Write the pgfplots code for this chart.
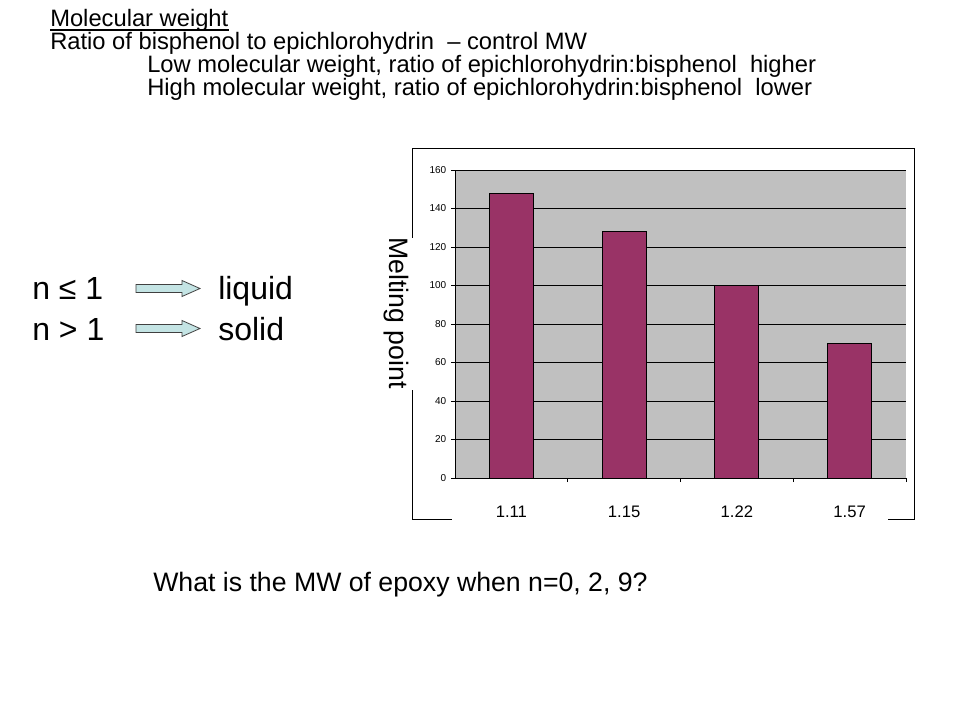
\documentclass[border=0pt]{standalone}
\usepackage{pgfplots}
\pgfplotsset{compat=1.18}
\usepackage{fontspec}
\setmainfont{Liberation Sans}[Ligatures={NoCommon,NoRequired,NoContextual}]
\definecolor{barplum}{HTML}{993366}
\definecolor{plotgray}{HTML}{C0C0C0}
\definecolor{arrowfill}{HTML}{C4E4E4}
\begin{document}
\begin{tikzpicture}[x=0.75pt,y=-0.75pt]
\useasboundingbox (0,0) rectangle (960,720);
\fill[white] (0,0) rectangle (960,720);
% top text
\node[anchor=base west,inner sep=0pt,font=\fontsize{17.8}{21}\selectfont] (mw) at (50,27) {Molecular weight};
\draw[line width=0.9pt] ([yshift=-2.2pt]mw.base west) -- ([yshift=-2.2pt]mw.base east);
\node[anchor=base west,inner sep=0pt,font=\fontsize{17.8}{21}\selectfont] at (50,50) {Ratio of bisphenol\ to epichlorohydrin\ \ -- control MW};
\node[anchor=base west,inner sep=0pt,font=\fontsize{17.8}{21}\selectfont] at (147,73) {Low molecular weight, ratio of epichlorohydrin:bisphenol\ \ higher};
\node[anchor=base west,inner sep=0pt,font=\fontsize{17.8}{21}\selectfont] at (147,96) {High molecular weight, ratio of epichlorohydrin:bisphenol\ \ lower};
% n rules
\node[anchor=base west,inner sep=0pt,font=\fontsize{24}{28}\selectfont] at (32,300) {n ≤ 1};
\node[anchor=base west,inner sep=0pt,font=\fontsize{24}{28}\selectfont] at (32,340) {n > 1};
\node[anchor=base west,inner sep=0pt,font=\fontsize{24}{28}\selectfont] at (218,300) {liquid};
\node[anchor=base west,inner sep=0pt,font=\fontsize{24}{28}\selectfont] at (218,340) {solid};
\foreach \yy in {288.5,328.5}{
  \filldraw[fill=arrowfill,draw=black!75,line width=0.6pt]
    (136,\yy-4) -- (182,\yy-4) -- (182,\yy-8) -- (200,\yy) -- (182,\yy+8) -- (182,\yy+4) -- (136,\yy+4) -- cycle;
}
% question
\node[anchor=base west,inner sep=0pt,font=\fontsize{20}{24}\selectfont] at (153,591) {What is the MW of epoxy when n=0, 2, 9?};
% chart frame
\draw[black,line width=0.6pt] (412,238) -- (412,148) -- (914,148) -- (914,519) -- (888,519);
\draw[black,line width=0.6pt] (412,390) -- (412,519) -- (452,519);
\node[rotate=-90,inner sep=0pt,font=\fontsize{20}{24}\selectfont] at (396,313) {Melting point};
% chart
\begin{axis}[
  at={(341.25pt,-358.5pt)}, anchor=south west,
  scale only axis, width=338.25pt, height=231pt,
  xmin=-0.5, xmax=3.5, ymin=0, ymax=160,
  ybar, bar width=33pt,
  axis background/.style={fill=plotgray},
  axis x line*=bottom, axis y line*=left,
  axis line style={black, line width=0.6pt},
  tick align=outside, major tick length=3pt,
  tick style={black, line width=0.6pt},
  ytick={0,20,...,160},
  ymajorgrids, grid style={black, line width=0.6pt},
  xtick={0.5,1.5,2.5,3.5}, xticklabels={},
  extra x ticks={0,1,2,3},
  extra x tick labels={1.11,1.15,1.22,1.57},
  extra x tick style={major tick length=0pt, xticklabel style={yshift=-17.5pt, font=\fontsize{12.5}{14}\selectfont}},
  yticklabel style={font=\fontsize{7.5}{8}\selectfont},
  /pgf/number format/assume math mode=true,
  clip=false,
]
\addplot[fill=barplum, draw=black, line width=0.6pt] coordinates {(0,148) (1,128) (2,100) (3,70)};
\end{axis}
\end{tikzpicture}
\end{document}
